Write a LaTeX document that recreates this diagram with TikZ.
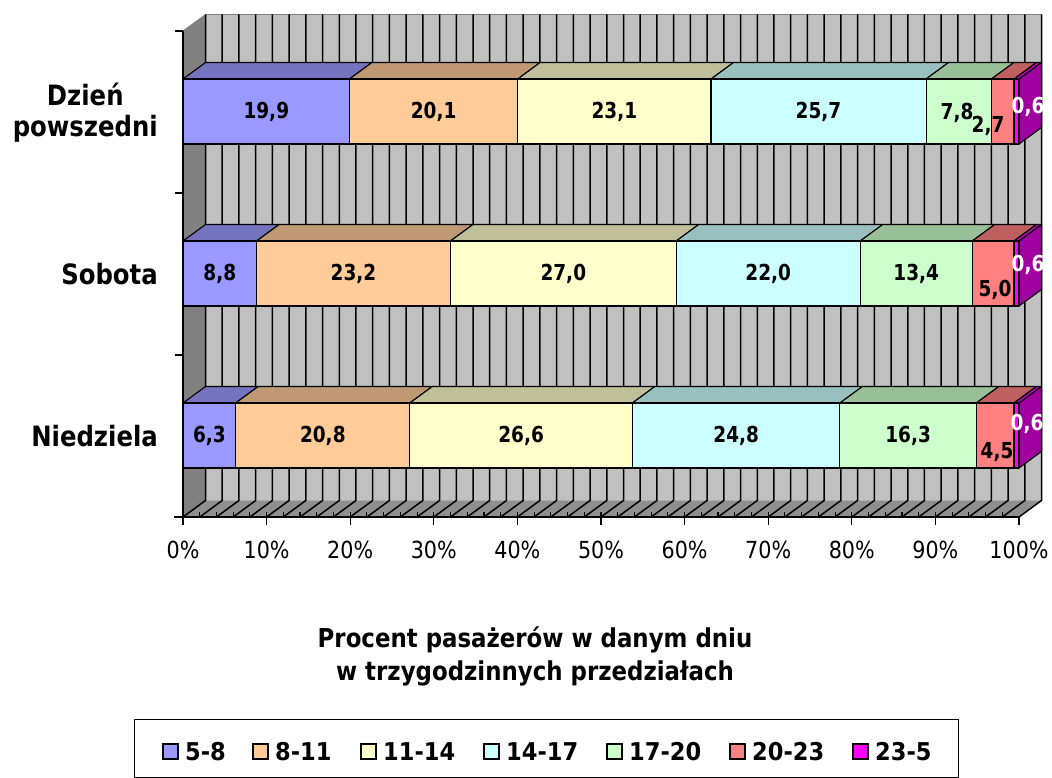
\documentclass[tikz,border=0pt]{standalone}
\usepackage{fontspec}
\setmainfont{DejaVu Sans}
\newfontfamily\valfont[FakeStretch=0.84]{DejaVu Sans}
\newfontfamily\catfont[FakeStretch=0.87]{DejaVu Sans}
\newfontfamily\titfont[FakeStretch=0.88]{DejaVu Sans}
\newfontfamily\legfont[FakeStretch=0.92]{DejaVu Sans}
\definecolor{c1}{HTML}{9999FF}
\definecolor{c2}{HTML}{FFCC99}
\definecolor{c3}{HTML}{FFFFCC}
\definecolor{c4}{HTML}{CCFFFF}
\definecolor{c5}{HTML}{CCFFCC}
\definecolor{c6}{HTML}{FF8080}
\definecolor{c7}{HTML}{FF00FF}
\definecolor{wallgray}{HTML}{C0C0C0}
\definecolor{sidegray}{HTML}{808080}
\definecolor{floorgray}{HTML}{8F8F8F}
\newcommand\stackbar[2]{%
  \foreach \xa/\xb/\c in {#2} {
    \filldraw[barline,fill=\c!75!black] (\xa,#1) -- (\xb,#1) -- (\xb+22.5,#1-16.5) -- (\xa+22.5,#1-16.5) -- cycle;
    \filldraw[barline,fill=\c] (\xa,#1) rectangle (\xb,#1+65);
  }
  \filldraw[barline,fill=c7!63!black] (1019,#1) -- (1041.5,#1-16.5) -- (1041.5,#1+48.5) -- (1019,#1+65) -- cycle;
}
\begin{document}
\begin{tikzpicture}[x=1pt,y=-1pt,
  barline/.style={draw=black,line width=1.1pt,line join=round},
  gridl/.style={black,line width=1.5pt},
  axisl/.style={black,line width=1.1pt},
  val/.style={font=\valfont\bfseries\fontsize{22}{24}\selectfont,inner sep=0pt},
  wval/.style={val,text=white},
  cat/.style={font=\catfont\bfseries\fontsize{28}{31}\selectfont,align=center,anchor=east,inner sep=0pt},
  ticklab/.style={font=\titfont\fontsize{23.5}{26}\selectfont,inner sep=0pt},
  titlelab/.style={font=\titfont\bfseries\fontsize{26}{33}\selectfont,align=center,inner sep=0pt},
  leg/.style={font=\legfont\bfseries\fontsize{24.5}{26}\selectfont,anchor=west,inner sep=0pt},
  legsq/.style={draw=black,line width=1.1pt}]
\useasboundingbox (0,0) rectangle (1052,778);
% walls
\fill[wallgray] (205.5,14.5) rectangle (1041.5,500.5);
\fill[sidegray] (183,31) -- (205.5,14.5) -- (205.5,500.5) -- (183,517) -- cycle;
\fill[floorgray] (183,517) -- (205.5,500.5) -- (1041.5,500.5) -- (1019,517) -- cycle;
\draw[gray,line width=0.8pt] (183,31) -- (205.5,14.5) -- (1041.5,14.5);
\foreach \k in {0,...,50} {
  \draw[gridl] (205.5+\k*16.72,14.5) -- (205.5+\k*16.72,500.5) -- (183+\k*16.72,517);
}
% axes
\draw[axisl] (183,31) -- (183,517);
\foreach \y in {31,193,355,517} \draw[axisl] (175,\y) -- (183,\y);
\draw[axisl] (174,517) -- (1019,517);
\foreach \i in {0,...,10} \draw[axisl] (183+\i*83.6,517) -- ++(0,8);
\foreach \i in {1,...,49} \draw[axisl] (183+\i*16.72,512) -- ++(0,5);
\foreach \i [evaluate=\i as \p using int(\i*10)] in {0,...,10}
  \node[ticklab] (tick\i) at (183+\i*83.6,550) {\p\%};
% bars
\stackbar{79}{183/349.5/c1, 349.5/517.7/c2, 517.7/711.0/c3, 711.0/926.1/c4, 926.1/991.4/c5, 991.4/1014.0/c6, 1014.0/1019/c7}
\stackbar{241}{183/256.6/c1, 256.6/450.5/c2, 450.5/676.2/c3, 676.2/860.2/c4, 860.2/972.2/c5, 972.2/1014.0/c6, 1014.0/1019/c7}
\stackbar{403}{183/235.7/c1, 235.7/409.8/c2, 409.8/632.4/c3, 632.4/839.9/c4, 839.9/976.3/c5, 976.3/1014.0/c6, 1014.0/1019/c7}
% values
\node[val] (a1) at (266.3,112) {19,9};
\node[val] (a2) at (433.6,112) {20,1};
\node[val] (a3) at (614.4,112) {23,1};
\node[val] (a4) at (818.5,112) {25,7};
\node[val] (a5) at (957,113) {7,8};
\node[val] (a6) at (988,126) {2,7};
\node[wval] (a7) at (1028,107) {0,6};
\node[val] (b1) at (219.8,274) {8,8};
\node[val] (b2) at (353.5,274) {23,2};
\node[val] (b3) at (563.3,274) {27,0};
\node[val] (b4) at (768.2,274) {22,0};
\node[val] (b5) at (916.2,274) {13,4};
\node[val] (b6) at (995,290) {5,0};
\node[wval] (b7) at (1028,265) {0,6};
\node[val] (d1) at (209.4,436) {6,3};
\node[val] (d2) at (322.8,436) {20,8};
\node[val] (d3) at (521.1,436) {26,6};
\node[val] (d4) at (736.2,436) {24,8};
\node[val] (d5) at (908.1,436) {16,3};
\node[val] (d6) at (997,452) {4,5};
\node[wval] (d7) at (1027,424) {0,6};
% categories
\node[cat] (cat1) at (158,113) {Dzień\\powszedni};
\node[cat] (cat2) at (158,274) {Sobota};
\node[cat] (cat3) at (158,436) {Niedziela};
% title
\node[titlelab] (title) at (535,656) {Procent pasażerów w danym dniu\\w trzygodzinnych przedziałach};
% legend
\draw[black,line width=1pt] (134,719) rectangle (958,777);
\foreach \sx/\c/\t [count=\n] in {163/c1/5-8, 253/c2/8-11, 361/c3/11-14, 484/c4/14-17, 607/c5/17-20, 730/c6/20-23, 853/c7/23-5} {
  \filldraw[legsq,fill=\c] (\sx,744) rectangle (\sx+15,759);
  \node[leg] (leg\n) at (\sx+22,751.5) {\t};
}
\end{tikzpicture}
\end{document}
